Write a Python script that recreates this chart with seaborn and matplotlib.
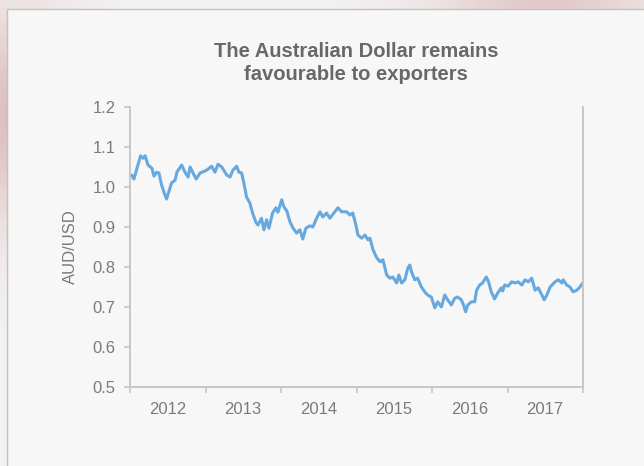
import numpy as np
import pandas as pd
import matplotlib
matplotlib.use("Agg")
import matplotlib.pyplot as plt
import matplotlib.dates as mdates
from matplotlib.patches import Rectangle
import seaborn as sns

# AUD/USD exchange rate, 2012-2017
dates = [
    "2012-01-09", "2012-01-20", "2012-02-08", "2012-02-21", "2012-03-04", "2012-03-14",
    "2012-03-28", "2012-04-16", "2012-04-26", "2012-05-09", "2012-05-20", "2012-06-02",
    "2012-06-18", "2012-06-26", "2012-07-07", "2012-07-20", "2012-08-06", "2012-08-15",
    "2012-09-07", "2012-09-23", "2012-10-08", "2012-10-18", "2012-11-01", "2012-11-16",
    "2012-12-05", "2013-01-06", "2013-01-30", "2013-02-15", "2013-03-02", "2013-03-20",
    "2013-04-13", "2013-04-29", "2013-05-13", "2013-05-31", "2013-06-11", "2013-06-24",
    "2013-07-05", "2013-07-18", "2013-08-03", "2013-08-16", "2013-09-01", "2013-09-11",
    "2013-09-28", "2013-10-10", "2013-10-23", "2013-11-03", "2013-11-21", "2013-12-07",
    "2013-12-17", "2014-01-04", "2014-01-15", "2014-01-29", "2014-02-13", "2014-02-27",
    "2014-03-17", "2014-04-02", "2014-04-16", "2014-05-01", "2014-05-20", "2014-06-04",
    "2014-06-22", "2014-07-08", "2014-07-22", "2014-08-09", "2014-08-25", "2014-09-18",
    "2014-10-03", "2014-10-21", "2014-11-14", "2014-11-30", "2014-12-14", "2014-12-29",
    "2015-01-08", "2015-01-26", "2015-02-11", "2015-02-25", "2015-03-07", "2015-03-22",
    "2015-04-09", "2015-04-25", "2015-05-09", "2015-05-27", "2015-06-12", "2015-06-26",
    "2015-07-14", "2015-07-25", "2015-08-07", "2015-08-23", "2015-09-06", "2015-09-16",
    "2015-09-24", "2015-10-10", "2015-10-24", "2015-11-11", "2015-11-27", "2015-12-11",
    "2015-12-29", "2016-01-15", "2016-01-29", "2016-02-16", "2016-03-03", "2016-03-17",
    "2016-04-04", "2016-04-20", "2016-05-04", "2016-05-22", "2016-06-02", "2016-06-12",
    "2016-06-22", "2016-07-10", "2016-07-26", "2016-08-04", "2016-08-19", "2016-09-02",
    "2016-09-20", "2016-10-01", "2016-10-14", "2016-10-30", "2016-11-14", "2016-12-02",
    "2016-12-08", "2016-12-18", "2017-01-03", "2017-01-21", "2017-02-06", "2017-02-21",
    "2017-03-11", "2017-03-27", "2017-04-11", "2017-04-28", "2017-05-14", "2017-05-29",
    "2017-06-16", "2017-06-27", "2017-07-10", "2017-07-26", "2017-08-19", "2017-09-03",
    "2017-09-21", "2017-09-27", "2017-10-14", "2017-10-30", "2017-11-14", "2017-12-02",
    "2017-12-17", "2017-12-31",
]
aud_usd = [
    1.030, 1.020, 1.055, 1.078, 1.072, 1.078,
    1.055, 1.047, 1.027, 1.037, 1.035, 1.005,
    0.980, 0.970, 0.988, 1.010, 1.017, 1.037,
    1.055, 1.037, 1.025, 1.050, 1.035, 1.020,
    1.035, 1.042, 1.052, 1.037, 1.057, 1.050,
    1.030, 1.025, 1.042, 1.052, 1.037, 1.035,
    1.010, 0.975, 0.960, 0.935, 0.912, 0.905,
    0.922, 0.893, 0.918, 0.897, 0.935, 0.948,
    0.937, 0.968, 0.950, 0.940, 0.913, 0.898,
    0.885, 0.893, 0.870, 0.897, 0.903, 0.900,
    0.922, 0.938, 0.925, 0.935, 0.922, 0.938,
    0.948, 0.938, 0.938, 0.930, 0.935, 0.905,
    0.880, 0.872, 0.880, 0.868, 0.872, 0.843,
    0.823, 0.813, 0.818, 0.780, 0.772, 0.775,
    0.760, 0.780, 0.760, 0.768, 0.797, 0.805,
    0.788, 0.768, 0.772, 0.750, 0.738, 0.730,
    0.725, 0.698, 0.713, 0.700, 0.730, 0.718,
    0.705, 0.722, 0.725, 0.718, 0.705, 0.688,
    0.705, 0.713, 0.713, 0.742, 0.755, 0.760,
    0.775, 0.763, 0.738, 0.720, 0.735, 0.748,
    0.740, 0.755, 0.752, 0.763, 0.760, 0.763,
    0.755, 0.768, 0.763, 0.772, 0.742, 0.748,
    0.730, 0.718, 0.730, 0.750, 0.763, 0.768,
    0.760, 0.768, 0.755, 0.750, 0.738, 0.742,
    0.750, 0.760,
]
y_ticks = [0.5, 0.6, 0.7, 0.8, 0.9, 1.0, 1.1, 1.2]
title = "The Australian Dollar remains\nfavourable to exporters"
y_label = "AUD/USD"

df = pd.DataFrame({"date": pd.to_datetime(dates), "rate": aud_usd})

sns.set_theme(style="white")
plt.rcParams["font.family"] = ["Liberation Sans", "DejaVu Sans"]

W, H = 644, 466
fig = plt.figure(figsize=(W / 100, H / 100), dpi=100)
fig.patch.set_facecolor("#eee6e6")

# soft backdrop behind the card
bg = fig.add_axes([0, 0, 1, 1], zorder=-10)
yy, xx = np.mgrid[0:1:120j, 0:1:160j]
glow = np.exp(-((xx - 0.02) ** 2 / 0.01 + (yy - 0.25) ** 2 / 0.05))
glow += 0.8 * np.exp(-((xx - 0.85) ** 2 / 0.03 + (yy - 0.0) ** 2 / 0.004))
glow = np.clip(glow, 0, 1)
base = np.array([0.955, 0.945, 0.945])
tint = np.array([0.87, 0.75, 0.75])
img = base[None, None, :] * (1 - glow[..., None]) + tint[None, None, :] * glow[..., None]
bg.imshow(img, extent=[0, 1, 0, 1], origin="upper", aspect="auto")
bg.set_axis_off()

# white card
card = Rectangle((7 / W, -0.01), 1.0, 1 - 9 / H + 0.01, transform=fig.transFigure,
                 facecolor="#f8f7f7", edgecolor="#c2c2c2", linewidth=1.0, zorder=-5)
fig.patches.append(card)

ax = fig.add_axes([130 / W, 1 - 387 / H, (583 - 130) / W, (387 - 107) / H])
ax.set_facecolor("none")

sns.lineplot(data=df, x="date", y="rate", ax=ax, color="#67a9df", linewidth=2.2)

ax.set_xlim(pd.Timestamp("2012-01-01"), pd.Timestamp("2018-01-01"))
ax.set_ylim(0.5, 1.2)
ax.set_yticks(y_ticks)
ax.yaxis.set_major_formatter(matplotlib.ticker.FormatStrFormatter("%.1f"))

ax.xaxis.set_major_locator(mdates.YearLocator())
ax.xaxis.set_major_formatter(matplotlib.ticker.NullFormatter())
ax.xaxis.set_minor_locator(mdates.MonthLocator(bymonth=7, bymonthday=1))
ax.xaxis.set_minor_formatter(mdates.DateFormatter("%Y"))

spine_col = "#c4c4c4"
for side in ["left", "bottom", "right"]:
    ax.spines[side].set_visible(True)
    ax.spines[side].set_color(spine_col)
    ax.spines[side].set_linewidth(1.3)
ax.spines["top"].set_visible(False)

label_col = "#7b7b7b"
ax.tick_params(axis="both", which="major", direction="out", length=4.5, width=1.1,
               color=spine_col, labelcolor=label_col, labelsize=12)
ax.tick_params(axis="y", which="major", left=True, pad=6)
ax.tick_params(axis="x", which="major", bottom=True)
ax.tick_params(axis="x", which="minor", bottom=True, length=0, pad=10.5,
               labelcolor=label_col, labelsize=12)

ax.set_xlabel("")
ax.set_ylabel(y_label, color=label_col, fontsize=12, labelpad=10)

fig.text(356 / W, 1 - 63 / H, title, ha="center", va="center", fontsize=14.5,
         fontweight="bold", color="#686868", linespacing=1.3)

fig.savefig("out.png", dpi=100, facecolor=fig.get_facecolor())
